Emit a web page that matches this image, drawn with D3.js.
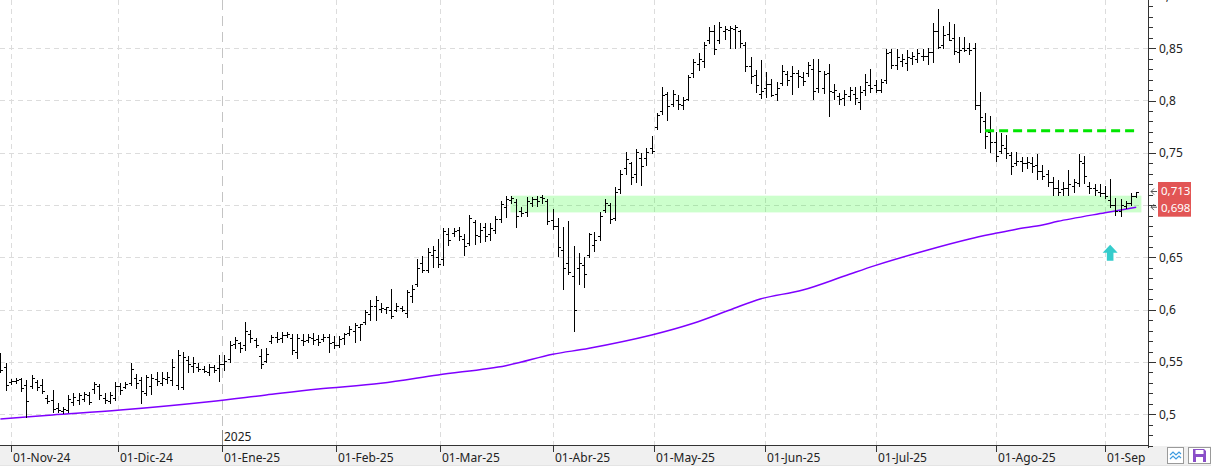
<!DOCTYPE html>
<html><head><meta charset="utf-8">
<script src="https://cdn.jsdelivr.net/npm/d3@7"></script>
<style>
html,body{margin:0;padding:0;background:#fff;}
svg{display:block;font-family:"Segoe UI","Noto Sans","Open Sans",sans-serif;}
</style>
</head><body>
<svg id="chart" width="1211" height="467"></svg>
<script>
// ---------- DATA ----------
const firstDay = "2024-10-30", lastDay = "2025-09-09";
const holidays = ["2024-12-25","2024-12-26","2025-01-01","2025-04-18","2025-04-21","2025-05-01"];

const high = [.559,.549,.534,.535,.535,.533,.538,.533,.534,.518, .523,.511,.507,.518,.520,.520,.521,.521,.531,.529,
 .520,.521,.531,.530,.531,.549,.539,.536,.538,.539, .540,.540,.540,.553,.561,.560,.556,.555,.549,.546,
 .548,.547,.557,.557,.570,.574,.569,.588,.581,.573, .562,.563,.576,.579,.579,.579,.577,.577,.577,.577,
 .578,.576,.577,.577,.575,.575,.578,.584,.587,.586, .600,.609,.613,.606,.603,.620,.606,.604,.619,.624,
 .648,.651,.659,.661,.668,.678,.678,.678,.679,.672, .691,.686,.683,.683,.683,.690,.704,.709,.709,.706,
 .698,.708,.708,.709,.710,.706,.696,.688,.679,.685, .661,.654,.650,.673,.674,.693,.706,.702,.717,.734,
 .751,.741,.754,.750,.755,.766,.788,.813,.808,.810, .805,.803,.824,.840,.845,.856,.870,.872,.875,.871,
 .871,.872,.867,.856,.842,.829,.839,.827,.821,.818, .834,.828,.833,.829,.827,.837,.840,.840,.828,.835,
 .816,.807,.810,.813,.813,.814,.825,.830,.820,.821, .849,.849,.849,.844,.848,.846,.849,.849,.850,.874,
 .887,.871,.875,.873,.861,.861,.855,.855,.808,.788, .785,.770,.769,.767,.751,.751,.746,.746,.746,.749,
 .738,.734,.727,.724,.722,.734,.725,.749,.747,.722, .720,.720,.718,.725,.707,.706,.704,.712,.713];

const low = [.540,.523,.529,.530,.522,.497,.525,.523,.520,.511, .502,.502,.501,.502,.509,.510,.513,.510,.520,.515,
 .511,.511,.514,.519,.525,.528,.525,.511,.518,.519, .528,.528,.530,.528,.524,.524,.540,.540,.541,.540,
 .538,.540,.532,.542,.550,.563,.560,.561,.569,.564, .544,.550,.568,.569,.569,.574,.558,.554,.566,.569,
 .567,.566,.570,.560,.563,.564,.567,.576,.569,.571, .586,.590,.590,.598,.597,.592,.599,.599,.593,.607,
 .623,.636,.636,.641,.641,.643,.662,.670,.667,.652, .662,.663,.665,.666,.667,.673,.684,.689,.702,.679,
 .690,.690,.699,.699,.702,.682,.677,.651,.620,.634, .580,.625,.622,.650,.656,.667,.693,.683,.686,.712,
 .730,.720,.722,.719,.738,.750,.773,.787,.781,.795, .792,.792,.800,.822,.829,.832,.855,.844,.855,.859,
 .850,.850,.851,.828,.817,.808,.802,.803,.804,.800, .815,.815,.806,.813,.815,.823,.801,.808,.807,.785,
 .801,.797,.796,.800,.797,.792,.805,.808,.808,.808, .817,.831,.830,.833,.829,.835,.837,.839,.835,.837,
 .850,.850,.858,.844,.837,.847,.844,.792,.770,.755, .751,.742,.750,.745,.730,.738,.733,.735,.732,.725,
 .725,.718,.710,.710,.710,.710,.713,.718,.721,.712, .710,.709,.707,.698,.691,.690,.697,.700,.708];

const open = [.556,.545,.531,.532,.534,.528,.527,.531,.528,.516, .514,.506,.503,.504,.512,.514,.515,.518,.524,.527,
 .516,.513,.516,.527,.526,.530,.535,.533,.520,.527, .534,.530,.534,.533,.528,.526,.552,.546,.545,.543,
 .540,.545,.544,.548,.553,.567,.568,.566,.577,.571, .556,.551,.570,.574,.573,.576,.573,.560,.571,.571,
 .573,.572,.572,.574,.569,.566,.573,.578,.580,.583, .588,.596,.604,.601,.601,.600,.600,.602,.597,.613,
 .625,.645,.638,.652,.650,.648,.672,.673,.676,.668, .664,.684,.670,.679,.672,.676,.687,.698,.705,.703,
 .694,.693,.702,.706,.708,.704,.686,.680,.657,.645, .632,.640,.643,.652,.662,.670,.695,.700,.688,.715,
 .735,.740,.730,.745,.745,.755,.775,.790,.806,.797, .800,.796,.801,.826,.835,.838,.858,.866,.858,.866,
 .867,.868,.866,.853,.833,.824,.806,.812,.816,.806, .817,.825,.823,.826,.822,.826,.830,.812,.812,.826,
 .808,.804,.802,.804,.806,.799,.810,.815,.815,.810, .820,.846,.834,.838,.836,.841,.840,.843,.843,.846,
 .866,.853,.864,.860,.846,.850,.850,.850,.796,.780, .770,.760,.752,.755,.748,.740,.742,.740,.740,.738,
 .733,.730,.722,.716,.715,.716,.718,.721,.740,.718, .716,.713,.712,.705,.700,.694,.699,.702,.709];

const close = [.542,.528,.532,.533,.525,.513,.535,.526,.522,.513, .505,.504,.505,.515,.517,.518,.519,.512,.529,.518,
 .514,.518,.527,.523,.529,.543,.530,.522,.536,.535, .532,.535,.536,.545,.557,.555,.548,.549,.543,.541,
 .545,.542,.548,.551,.566,.571,.563,.580,.573,.566, .548,.558,.574,.572,.576,.577,.561,.573,.570,.574,
 .571,.569,.574,.568,.566,.572,.577,.582,.585,.586, .598,.604,.609,.602,.603,.594,.604,.600,.617,.620,
 .640,.638,.655,.657,.644,.675,.667,.675,.670,.661, .688,.671,.676,.670,.678,.687,.701,.706,.707,.690,
 .692,.704,.706,.704,.707,.685,.680,.660,.640,.636, .600,.645,.634,.672,.667,.690,.702,.687,.713,.730,
 .744,.727,.751,.737,.751,.752,.786,.805,.795,.806, .797,.800,.822,.837,.840,.853,.866,.849,.870,.868,
 .869,.870,.855,.833,.823,.815,.809,.816,.805,.812, .828,.820,.826,.823,.819,.834,.809,.828,.825,.809,
 .810,.801,.806,.810,.802,.808,.818,.812,.810,.818, .845,.834,.842,.840,.842,.843,.845,.843,.846,.866,
 .851,.863,.858,.847,.848,.848,.848,.796,.784,.766, .760,.747,.757,.750,.737,.742,.740,.741,.737,.733,
 .728,.722,.716,.713,.716,.720,.722,.742,.728,.716, .714,.712,.709,.700,.694,.700,.702,.709,.713];

// moving average read at selected bars (bar index, value)
const maIdx = [0,10,23,40,51,61,73,84,97,106,113,125,133,140,146,154,162,168,178,186,191,195,200,203,212,218];
const maVal = [.4955,.4993,.504,.512,.5185,.5242,.5296,.5376,.5465,.5574,.5631,.5758,.5870,.5997,.6105,.6188,.6322,.6424,.6571,.6676,.6730,.677,.681,.6845,.6927,.698];

const monthDates  = ["2024-11-01","2024-12-01","2025-01-01","2025-02-01","2025-03-01","2025-04-01","2025-05-01","2025-06-01","2025-07-01","2025-08-01","2025-09-01"];
const monthLabels = ["01-Nov-24","01-Dic-24","01-Ene-25","01-Feb-25","01-Mar-25","01-Abr-25","01-May-25","01-Jun-25","01-Jul-25","01-Ago-25","01-Sep"];
const yearDates = ["2025-01-01"], yearLabels = ["2025"];

const yMajor = [0.5,0.55,0.6,0.65,0.7,0.75,0.8,0.85,0.9];
// 0,7 is covered by the last-value labels in the reference
const yMajorLabels = ["0,5","0,55","0,6","0,65","","0,75","0,8","0,85","0,9"];
const yMinor = [0.47,0.48,0.49,0.51,0.52,0.53,0.54,0.56,0.57,0.58,0.59,0.61,0.62,0.63,0.64,0.66,0.67,0.68,0.69,0.71,0.72,0.73,0.74,0.76,0.77,0.78,0.79,0.81,0.82,0.83,0.84,0.86,0.87,0.88,0.89];

const zoneLow = 0.693, zoneHigh = 0.709, zoneFrom = "2025-03-20";
const resistLevel = 0.771, resistFrom = "2025-07-30";
const signalDate = "2025-09-02", signalVal = 0.662;
const lastLabels = [0.713, 0.698], lastLabelText = ["0,713","0,698"];

// ---------- BUILD ----------
const days = [];
for (let t = Date.parse(firstDay); t <= Date.parse(lastDay); t += 864e5) {
  const d = new Date(t), wd = d.getUTCDay(), s = d.toISOString().slice(0,10);
  if (wd !== 0 && wd !== 6 && !holidays.includes(s)) days.push(s);
}
function dateIndex(s){
  const i = days.indexOf(s); if (i >= 0) return i;
  const t = Date.parse(s); let p = -1;
  days.forEach((d,k)=>{ if (Date.parse(d) < t) p = k; });
  if (p < 0) return 0;
  if (p >= days.length-1) return days.length-1;
  const tp = Date.parse(days[p]), tn = Date.parse(days[p+1]);
  return p + (t-tp)/(tn-tp);
}

const plotR = 1148, plotB = 445;
const xs = d3.scaleLinear().domain([0, days.length-1]).range([0.4, 1136.2]);
const ys = d3.scaleLinear().domain([0.5, 0.85]).range([414.3, 48.2]);
const px = v => Math.round(v);

const svg = d3.select("#chart");
svg.append("rect").attr("width",1211).attr("height",467).attr("fill","#fff");

const plot = svg.append("g");
plot.append("clipPath").attr("id","clip").append("rect").attr("x",0).attr("y",0).attr("width",plotR).attr("height",plotB);

// horizontal grid
plot.selectAll("line.hg").data(yMajor).join("line").attr("class","hg")
  .attr("x1",0).attr("x2",plotR).attr("y1",d=>px(ys(d))+0.5).attr("y2",d=>px(ys(d))+0.5)
  .attr("stroke","#dcdcdc").attr("stroke-dasharray","5,4");
// vertical grid (months)
plot.selectAll("line.vg").data(monthDates.filter(d=>!yearDates.includes(d))).join("line").attr("class","vg")
  .attr("x1",d=>px(xs(dateIndex(d)))+0.5).attr("x2",d=>px(xs(dateIndex(d)))+0.5)
  .attr("y1",0).attr("y2",plotB).attr("stroke","#dcdcdc").attr("stroke-dasharray","5,4");
// year line
yearDates.forEach((d,k)=>{
  const x = px(xs(dateIndex(d)))+0.5;
  plot.append("line").attr("x1",x).attr("x2",x).attr("y1",0).attr("y2",430)
    .attr("stroke","#c4c4c4").attr("stroke-dasharray","10,6");
  plot.append("line").attr("x1",x).attr("x2",x).attr("y1",430).attr("y2",plotB)
    .attr("stroke","#8a8a8a");
  plot.append("text").attr("x",x+1.5).attr("y",441).attr("font-size",12).attr("fill","#222").text(yearLabels[k]);
});

// support zone
const zx0 = xs(dateIndex(zoneFrom)) - 0.5, zx1 = xs(days.length);
plot.append("rect").attr("x",zx0).attr("width",zx1-zx0)
  .attr("y",ys(zoneHigh)).attr("height",ys(zoneLow)-ys(zoneHigh))
  .attr("fill","rgba(0,255,0,0.2)");

// moving average
const maPts = maIdx.map((d,k)=>[d, maVal[k]]);
plot.append("path").datum(maPts)
  .attr("d", d3.line().x(d=>xs(d[0])).y(d=>ys(d[1])).curve(d3.curveCatmullRom.alpha(0.5)))
  .attr("fill","none").attr("stroke","#7f00ff").attr("stroke-width",1.5).attr("clip-path","url(#clip)");

// OHLC bars
const bars = plot.append("g").attr("clip-path","url(#clip)").attr("shape-rendering","crispEdges").attr("fill","#000");
days.forEach((d,i)=>{
  const x = px(xs(i));
  const yh = px(ys(high[i])), yl = px(ys(low[i]));
  bars.append("rect").attr("x",x).attr("y",yh).attr("width",1).attr("height",Math.max(1,yl-yh+1));
  bars.append("rect").attr("x",x-2).attr("y",px(ys(open[i]))).attr("width",2).attr("height",1);
  bars.append("rect").attr("x",x+1).attr("y",px(ys(close[i]))).attr("width",2).attr("height",1);
});

// resistance dashed line
plot.append("line").attr("x1",xs(dateIndex(resistFrom))).attr("x2",xs(days.length-1)+1)
  .attr("y1",ys(resistLevel)).attr("y2",ys(resistLevel))
  .attr("stroke","#00e600").attr("stroke-width",3).attr("stroke-dasharray","9,5");

// signal arrow
{
  const cx = xs(dateIndex(signalDate)), ty = ys(signalVal);
  plot.append("path")
    .attr("d",`M${cx},${ty} L${cx+7.5},${ty+8} L${cx+3.3},${ty+8} L${cx+3.3},${ty+16} L${cx-3.3},${ty+16} L${cx-3.3},${ty+8} L${cx-7.5},${ty+8} Z`)
    .attr("fill","#35cccc");
}

// ---------- AXES ----------
// bottom strip
svg.append("rect").attr("x",0).attr("y",plotB+1).attr("width",1211).attr("height",19).attr("fill","#f0f0f0");
svg.append("line").attr("x1",0).attr("x2",1211).attr("y1",465.5).attr("y2",465.5).attr("stroke","#e4e4e4");
svg.append("line").attr("x1",0).attr("x2",plotR+1).attr("y1",plotB+0.5).attr("y2",plotB+0.5).attr("stroke","#333");
svg.append("line").attr("x1",plotR+0.5).attr("x2",plotR+0.5).attr("y1",0).attr("y2",plotB+3).attr("stroke","#333");

const xa = svg.append("g");
monthDates.forEach((d,k)=>{
  const x = px(xs(dateIndex(d)))+0.5;
  xa.append("line").attr("x1",x).attr("x2",x).attr("y1",plotB).attr("y2",plotB+7).attr("stroke","#333");
  xa.append("text").attr("x",x+1.5).attr("y",462).attr("font-size",12).attr("fill","#222").text(monthLabels[k]);
});

// right axis via d3 axis
const yAxisMajor = d3.axisRight(ys).tickValues(yMajor).tickSize(8).tickPadding(3)
  .tickFormat((d,i)=>yMajorLabels[i]);
const yAxisMinor = d3.axisRight(ys).tickValues(yMinor).tickSize(5).tickFormat("");
const gMin = svg.append("g").attr("transform",`translate(${plotR},0)`).call(yAxisMinor);
const gMaj = svg.append("g").attr("transform",`translate(${plotR},0)`).call(yAxisMajor);
[gMin,gMaj].forEach(g=>{
  g.select(".domain").remove();
  g.selectAll("line").attr("stroke","#333").attr("shape-rendering","crispEdges");
  g.selectAll("text").attr("font-size",12).attr("fill","#222")
    .attr("font-family",'"Segoe UI","Noto Sans","Open Sans",sans-serif');
});
gMaj.selectAll("text").filter(function(){ return this.textContent === ""; }).remove();

// last value labels
lastLabels.forEach((v,k)=>{
  const y = ys(v);
  svg.append("path").attr("d",`M${plotR+9},${y} L${plotR+3},${y} M${plotR+6},${y-3} L${plotR+3},${y} L${plotR+6},${y+3}`)
    .attr("stroke","#555").attr("fill","none");
});
lastLabels.forEach((v,k)=>{
  const y = ys(v);
  svg.append("rect").attr("x",1158).attr("y",y-9.5).attr("width",33).attr("height",19).attr("fill","#e25555");
});
lastLabels.forEach((v,k)=>{
  const y = ys(v);
  svg.append("text").attr("x",1161).attr("y",y + (k===0 ? 3.5 : 5)).attr("font-size",11.5).attr("fill","#fff").text(lastLabelText[k]);
});

// bottom-right buttons
svg.append("rect").attr("x",1167.5).attr("y",447.5).attr("width",16).attr("height",16).attr("fill","#fff").attr("stroke","#9a9a9a");
svg.append("path").attr("d","M1170,455 L1173,452 L1176,455 L1179,452 L1181,454 M1170,459 L1173,456 L1176,459 L1179,456 L1181,458")
  .attr("fill","none").attr("stroke","#3d9be0").attr("stroke-width",1.2);
svg.append("rect").attr("x",1188.5).attr("y",447.5).attr("width",22).attr("height",16).attr("fill","#fff").attr("stroke","#9a9a9a");
svg.append("path").attr("d","M1193,449 L1204,449 L1206,451 L1206,462 L1193,462 Z").attr("fill","#8a4fc8");
svg.append("rect").attr("x",1195.5).attr("y",450).attr("width",8).attr("height",4).attr("fill","#fff");
svg.append("rect").attr("x",1196).attr("y",457).attr("width",7).attr("height",5).attr("fill","#fff");
</script>
</body></html>
